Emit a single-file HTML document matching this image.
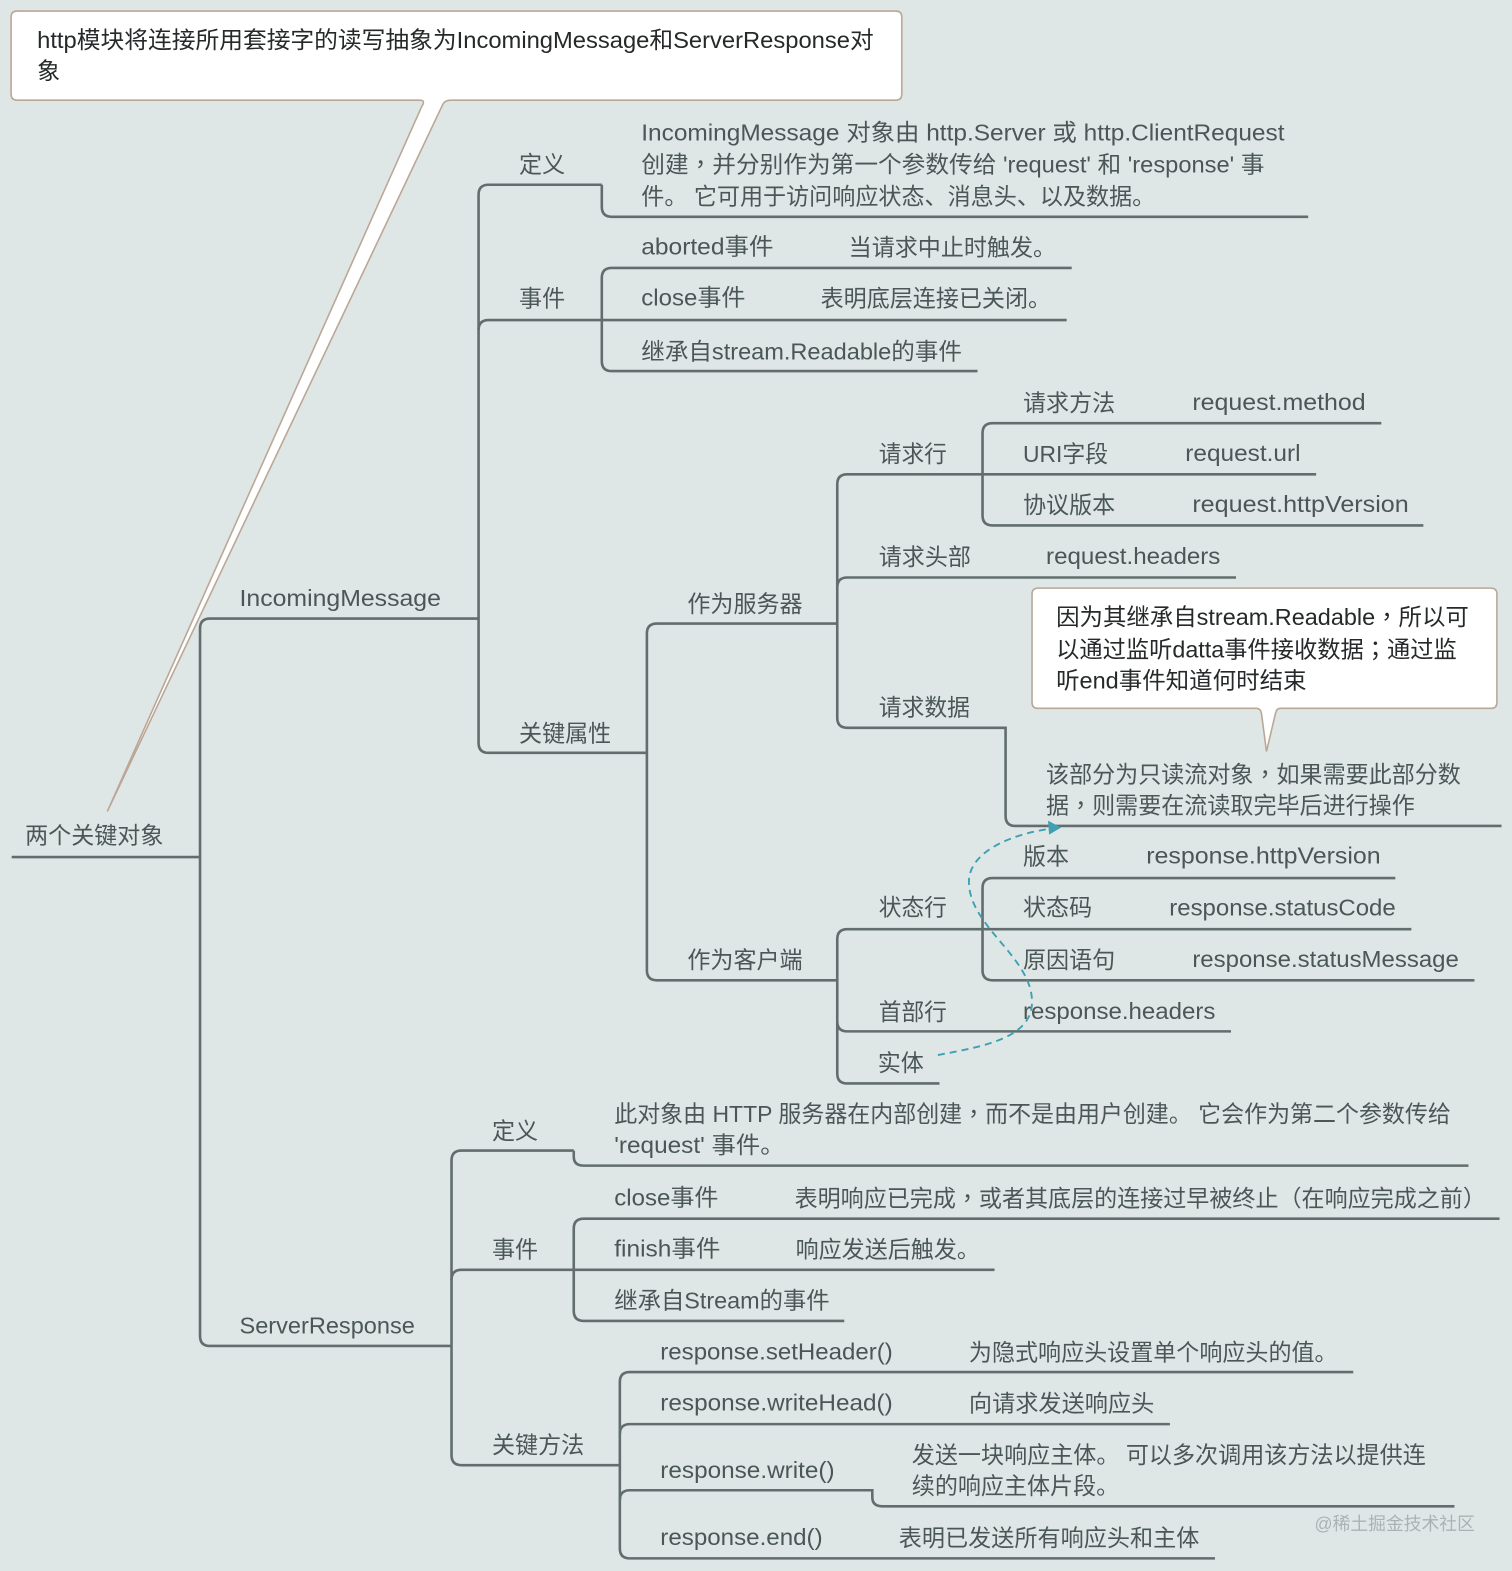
<!DOCTYPE html>
<html><head><meta charset="utf-8"><style>
html,body{margin:0;padding:0;background:#dfe7e6}
svg{display:block}
text{font-family:"Liberation Sans","Noto Sans CJK SC",sans-serif;font-size:23px;fill:#4b5757;white-space:pre}
tspan.p{font-family:"Noto Sans CJK TC",sans-serif}
.c text{fill:#26292a}
.l{fill:none;stroke:#626e6e;stroke-width:2.6}
</style></head><body>
<svg width="1512" height="1571" viewBox="0 0 1509 1568" xmlns="http://www.w3.org/2000/svg">
<rect width="1509" height="1568" fill="#dfe7e6"/>
<g class="l" transform="translate(0.6 0.4)">
<path d="M11 855H199"/>
<path d="M477 617H209Q199 617 199 627V1333Q199 1343 209 1343H450"/>
<path d="M600 184H487Q477 184 477 194V741Q477 751 487 751H645"/>
<path d="M600 184V206Q600 216 610 216H1305"/>
<path d="M477 329Q477 319 487 319H1064"/>
<path d="M1069 267H610Q600 267 600 277V360Q600 370 610 370H975"/>
<path d="M835 622H655Q645 622 645 632V968Q645 978 655 978H835"/>
<path d="M1313 473H845Q835 473 835 483V716Q835 726 845 726H1003V814Q1003 824 1013 824H1498"/>
<path d="M835 586Q835 576 845 576H1233"/>
<path d="M1378 422H990Q980 422 980 432V514Q980 524 990 524H1420"/>
<path d="M1392 876H990Q980 876 980 886V968Q980 978 990 978H1471"/>
<path d="M1408 927H845Q835 927 835 937V1071Q835 1081 845 1081H937"/>
<path d="M835 1019Q835 1029 845 1029H1228"/>
<path d="M572 1148H460Q450 1148 450 1158V1452Q450 1462 460 1462H618"/>
<path d="M572 1148V1154Q572 1163 582 1163H1465"/>
<path d="M450 1277Q450 1267 460 1267H992"/>
<path d="M1496 1216H582Q572 1216 572 1226V1308Q572 1318 582 1318H842"/>
<path d="M1350 1369H628Q618 1369 618 1379V1545Q618 1555 628 1555H1212"/>
<path d="M618 1431Q618 1421 628 1421H1167"/>
<path d="M618 1497Q618 1487 628 1487H870V1494Q870 1503 880 1503H1451"/>
</g>
<path d="M17 11H894Q900 11 900 17V94Q900 100 894 100H450Q444 100 442 104L107 810L421 106Q425 100 419 100H17Q11 100 11 94V17Q11 11 17 11Z" fill="#fff" stroke="#bba797" stroke-width="1.6"/>
<path d="M1036 587H1488Q1494 587 1494 593V701Q1494 707 1488 707H1278Q1274 707 1273 712L1264 750L1259 712Q1258 707 1254 707H1036Q1030 707 1030 701V593Q1030 587 1036 587Z" fill="#fff" stroke="#bba797" stroke-width="1.6"/>
<path d="M936 1053C985 1044 1030 1035 1030 1000C1030 955 967 925 967 880C967 850 1010 832 1050 827" fill="none" stroke="#3f9fb3" stroke-width="1.9" stroke-dasharray="7 5"/>
<path d="M1059 826L1046 819L1047 833Z" fill="#3f9fb3"/>
<g class="c">
<text x="37" y="48" textLength="835" lengthAdjust="spacingAndGlyphs">http模块将连接所用套接字的读写抽象为IncomingMessage和ServerResponse对</text>
<text x="37" y="79">象</text>
<text x="1054" y="624" textLength="412" lengthAdjust="spacingAndGlyphs">因为其继承自stream.Readable<tspan class="p">，</tspan>所以可</text>
<text x="1054" y="656" textLength="400" lengthAdjust="spacingAndGlyphs">以通过监听datta事件接收数据<tspan class="p">；</tspan>通过监</text>
<text x="1054" y="687" textLength="250" lengthAdjust="spacingAndGlyphs">听end事件知道何时结束</text>
</g>
<g>
<text x="25" y="842" textLength="138" lengthAdjust="spacingAndGlyphs">两个关键对象</text>
<text x="239" y="605" textLength="201" lengthAdjust="spacingAndGlyphs">IncomingMessage</text>
<text x="239" y="1331" textLength="175" lengthAdjust="spacingAndGlyphs">ServerResponse</text>
<text x="518" y="172" textLength="46" lengthAdjust="spacingAndGlyphs">定义</text>
<text x="640" y="140" textLength="642" lengthAdjust="spacingAndGlyphs">IncomingMessage 对象由 http.Server 或 http.ClientRequest</text>
<text x="640" y="172" textLength="622" lengthAdjust="spacingAndGlyphs">创建<tspan class="p">，</tspan>并分别作为第一个参数传给 'request' 和 'response' 事</text>
<text x="640" y="204" textLength="513" lengthAdjust="spacingAndGlyphs">件。 它可用于访问响应状态、消息头、以及数据。</text>
<text x="640" y="254" textLength="132" lengthAdjust="spacingAndGlyphs">aborted事件</text>
<text x="847" y="255" textLength="207" lengthAdjust="spacingAndGlyphs">当请求中止时触发。</text>
<text x="518" y="306" textLength="46" lengthAdjust="spacingAndGlyphs">事件</text>
<text x="640" y="305" textLength="104" lengthAdjust="spacingAndGlyphs">close事件</text>
<text x="819" y="306" textLength="230" lengthAdjust="spacingAndGlyphs">表明底层连接已关闭。</text>
<text x="640" y="359" textLength="320" lengthAdjust="spacingAndGlyphs">继承自stream.Readable的事件</text>
<text x="1021" y="410" textLength="92" lengthAdjust="spacingAndGlyphs">请求方法</text>
<text x="1190" y="409" textLength="173" lengthAdjust="spacingAndGlyphs">request.method</text>
<text x="877" y="461" textLength="68" lengthAdjust="spacingAndGlyphs">请求行</text>
<text x="1021" y="461" textLength="85" lengthAdjust="spacingAndGlyphs">URI字段</text>
<text x="1183" y="460" textLength="115" lengthAdjust="spacingAndGlyphs">request.url</text>
<text x="1021" y="512" textLength="92" lengthAdjust="spacingAndGlyphs">协议版本</text>
<text x="1190" y="511" textLength="216" lengthAdjust="spacingAndGlyphs">request.httpVersion</text>
<text x="877" y="564" textLength="92" lengthAdjust="spacingAndGlyphs">请求头部</text>
<text x="1044" y="563" textLength="174" lengthAdjust="spacingAndGlyphs">request.headers</text>
<text x="686" y="611" textLength="115" lengthAdjust="spacingAndGlyphs">作为服务器</text>
<text x="877" y="714" textLength="91" lengthAdjust="spacingAndGlyphs">请求数据</text>
<text x="518" y="740" textLength="92" lengthAdjust="spacingAndGlyphs">关键属性</text>
<text x="1044" y="781" textLength="414" lengthAdjust="spacingAndGlyphs">该部分为只读流对象<tspan class="p">，</tspan>如果需要此部分数</text>
<text x="1044" y="812" textLength="368" lengthAdjust="spacingAndGlyphs">据<tspan class="p">，</tspan>则需要在流读取完毕后进行操作</text>
<text x="1021" y="863" textLength="46" lengthAdjust="spacingAndGlyphs">版本</text>
<text x="1144" y="862" textLength="234" lengthAdjust="spacingAndGlyphs">response.httpVersion</text>
<text x="877" y="914" textLength="68" lengthAdjust="spacingAndGlyphs">状态行</text>
<text x="1021" y="914" textLength="69" lengthAdjust="spacingAndGlyphs">状态码</text>
<text x="1167" y="914" textLength="226" lengthAdjust="spacingAndGlyphs">response.statusCode</text>
<text x="686" y="966" textLength="115" lengthAdjust="spacingAndGlyphs">作为客户端</text>
<text x="1021" y="966" textLength="92" lengthAdjust="spacingAndGlyphs">原因语句</text>
<text x="1190" y="965" textLength="266" lengthAdjust="spacingAndGlyphs">response.statusMessage</text>
<text x="877" y="1018" textLength="68" lengthAdjust="spacingAndGlyphs">首部行</text>
<text x="1021" y="1017" textLength="192" lengthAdjust="spacingAndGlyphs">response.headers</text>
<text x="876" y="1069" textLength="46" lengthAdjust="spacingAndGlyphs">实体</text>
<text x="491" y="1137" textLength="46" lengthAdjust="spacingAndGlyphs">定义</text>
<text x="613" y="1120" textLength="835" lengthAdjust="spacingAndGlyphs">此对象由 HTTP 服务器在内部创建<tspan class="p">，</tspan>而不是由用户创建。 它会作为第二个参数传给</text>
<text x="613" y="1151" textLength="170" lengthAdjust="spacingAndGlyphs">'request' 事件。</text>
<text x="613" y="1203" textLength="104" lengthAdjust="spacingAndGlyphs">close事件</text>
<text x="793" y="1204" textLength="690" lengthAdjust="spacingAndGlyphs">表明响应已完成<tspan class="p">，</tspan>或者其底层的连接过早被终止<tspan class="p">（</tspan>在响应完成之前<tspan class="p">）</tspan></text>
<text x="491" y="1255" textLength="46" lengthAdjust="spacingAndGlyphs">事件</text>
<text x="613" y="1254" textLength="106" lengthAdjust="spacingAndGlyphs">finish事件</text>
<text x="794" y="1255" textLength="184" lengthAdjust="spacingAndGlyphs">响应发送后触发。</text>
<text x="613" y="1306" textLength="215" lengthAdjust="spacingAndGlyphs">继承自Stream的事件</text>
<text x="659" y="1357" textLength="232" lengthAdjust="spacingAndGlyphs">response.setHeader()</text>
<text x="967" y="1358" textLength="368" lengthAdjust="spacingAndGlyphs">为隐式响应头设置单个响应头的值。</text>
<text x="659" y="1408" textLength="232" lengthAdjust="spacingAndGlyphs">response.writeHead()</text>
<text x="967" y="1409" textLength="185" lengthAdjust="spacingAndGlyphs">向请求发送响应头</text>
<text x="491" y="1450" textLength="92" lengthAdjust="spacingAndGlyphs">关键方法</text>
<text x="910" y="1460" textLength="513" lengthAdjust="spacingAndGlyphs">发送一块响应主体。 可以多次调用该方法以提供连</text>
<text x="910" y="1491" textLength="207" lengthAdjust="spacingAndGlyphs">续的响应主体片段。</text>
<text x="659" y="1475" textLength="174" lengthAdjust="spacingAndGlyphs">response.write()</text>
<text x="659" y="1542" textLength="162" lengthAdjust="spacingAndGlyphs">response.end()</text>
<text x="897" y="1543" textLength="300" lengthAdjust="spacingAndGlyphs">表明已发送所有响应头和主体</text>
<text x="1312" y="1527" textLength="160" lengthAdjust="spacingAndGlyphs" style="font-size:18px;fill:#a8b4b4">@稀土掘金技术社区</text>
</g>
</svg>
</body></html>
